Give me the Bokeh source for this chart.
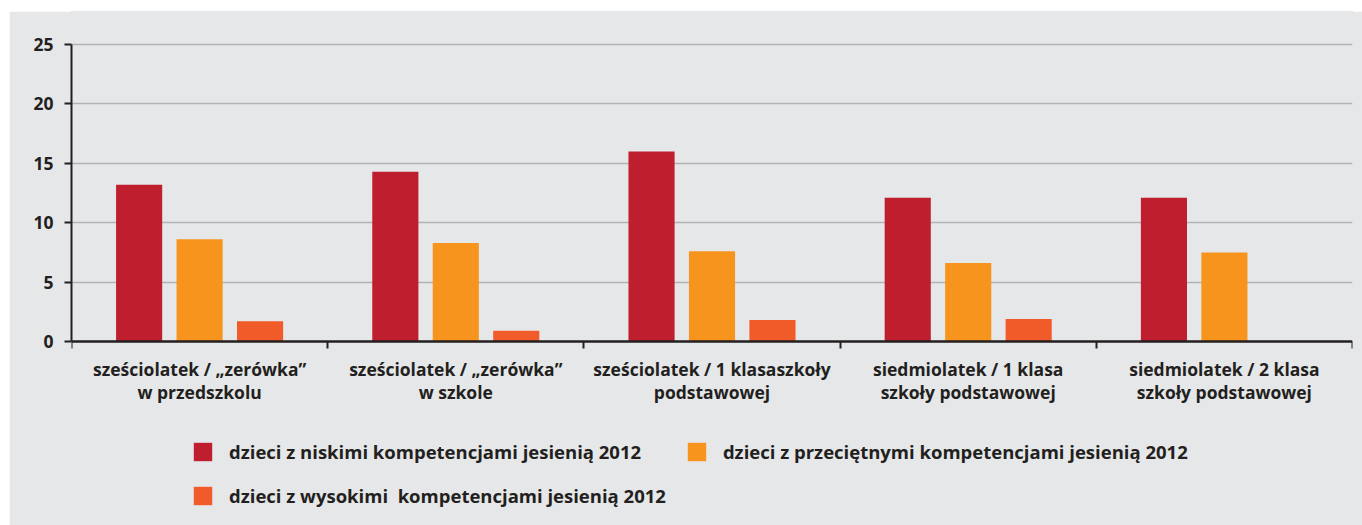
from bokeh.plotting import figure
from bokeh.models import (ColumnDataSource, Range1d, FixedTicker, Legend, LegendItem)
from bokeh.transform import dodge
from bokeh.embed import file_html
from bokeh.resources import INLINE

categories = ["sześciolatek / \u201ezerówka\u201d\nw przedszkolu",
              "sześciolatek / \u201ezerówka\u201d\nw szkole",
              "sześciolatek / 1 klasaszkoły\npodstawowej",
              "siedmiolatek / 1 klasa\nszkoły podstawowej",
              "siedmiolatek / 2 klasa\nszkoły podstawowej"]
low = [13.2, 14.3, 16.0, 12.1, 12.1]
mid = [8.6, 8.3, 7.6, 6.6, 7.5]
high = [1.7, 0.9, 1.8, 1.9, float("nan")]
series_names = ["dzieci z niskimi kompetencjami jesienią 2012",
                "dzieci z przeciętnymi kompetencjami jesienią 2012",
                "dzieci z wysokimi  kompetencjami jesienią 2012"]
colors = ["#be1e2d", "#f7941d", "#f15a29"]
y_ticks = [0, 5, 10, 15, 20, 25]

FONT = "Open Sans"
TXT = "#231f20"
BG = "#e6e7e8"

pos = [i + 0.5 for i in range(len(categories))]
src = ColumnDataSource(dict(x=pos, low=low, mid=mid, high=high))

p = figure(width=1353, height=514, output_backend="svg", toolbar_location=None,
           x_range=Range1d(0, len(categories)), y_range=Range1d(-15.49, 27.78),
           min_border_left=62, min_border_right=10, min_border_top=0, min_border_bottom=0)
p.margin = (11, 0, 0, 9)
p.background_fill_color = BG
p.border_fill_color = BG
p.outline_line_color = BG
p.outline_line_width = 2

r1 = p.vbar(x=dodge("x", -0.236, range=p.x_range), top="low", width=0.18, source=src,
            color=colors[0], line_color=None)
r2 = p.vbar(x=dodge("x", 0.0, range=p.x_range), top="mid", width=0.18, source=src,
            color=colors[1], line_color=None)
r3 = p.vbar(x=dodge("x", 0.236, range=p.x_range), top="high", width=0.18, source=src,
            color=colors[2], line_color=None)

# y axis
p.yaxis.ticker = FixedTicker(ticks=y_ticks)
p.yaxis.bounds = (0, 25)
p.yaxis.axis_line_color = TXT
p.yaxis.axis_line_width = 2
p.yaxis.major_tick_line_color = TXT
p.yaxis.major_tick_line_width = 2
p.yaxis.major_tick_out = 7
p.yaxis.major_tick_in = 0
p.yaxis.minor_tick_line_color = None
p.yaxis.major_label_text_font = FONT
p.yaxis.major_label_text_font_style = "bold"
p.yaxis.major_label_text_font_size = "17.5px"
p.yaxis.major_label_text_color = TXT
p.yaxis.major_label_standoff = 11

# x axis at y = 0: labels at category centres, ticks at boundaries
p.xaxis.fixed_location = 0
p.xaxis.ticker = FixedTicker(ticks=pos, minor_ticks=list(range(len(categories) + 1)))
p.xaxis.major_label_overrides = {pv: c for pv, c in zip(pos, categories)}
p.xaxis.axis_line_color = TXT
p.xaxis.axis_line_width = 2.5
p.xaxis.major_tick_line_color = None
p.xaxis.major_tick_out = 0
p.xaxis.major_tick_in = 0
p.xaxis.minor_tick_line_color = TXT
p.xaxis.minor_tick_line_width = 2
p.xaxis.minor_tick_out = 7
p.xaxis.minor_tick_in = 0
p.xaxis.major_label_text_font = FONT
p.xaxis.major_label_text_font_style = "bold"
p.xaxis.major_label_text_font_size = "17.5px"
p.xaxis.major_label_text_color = TXT
p.xaxis.major_label_standoff = 9
p.xaxis.major_label_text_line_height = 0.92

p.xgrid.grid_line_color = None
p.ygrid.ticker = FixedTicker(ticks=y_ticks[1:])
p.ygrid.grid_line_color = "#b3b3b3"
p.ygrid.grid_line_width = 1.5

legend = Legend(items=[LegendItem(label=series_names[0], renderers=[r1]),
                       LegendItem(label=series_names[1], renderers=[r2]),
                       LegendItem(label=series_names[2], renderers=[r3])],
                orientation="horizontal", ncols=2,
                location=(120, 17))
legend.background_fill_alpha = 0
legend.border_line_color = None
legend.glyph_width = 23
legend.glyph_height = 23
legend.label_standoff = 15
legend.spacing = 19
legend.padding = 0
legend.margin = 0
legend.label_text_font = FONT
legend.label_text_font_style = "bold"
legend.label_text_font_size = "18.5px"
legend.label_text_color = TXT
p.add_layout(legend)

open("out.html", "w").write(file_html(p, INLINE))
